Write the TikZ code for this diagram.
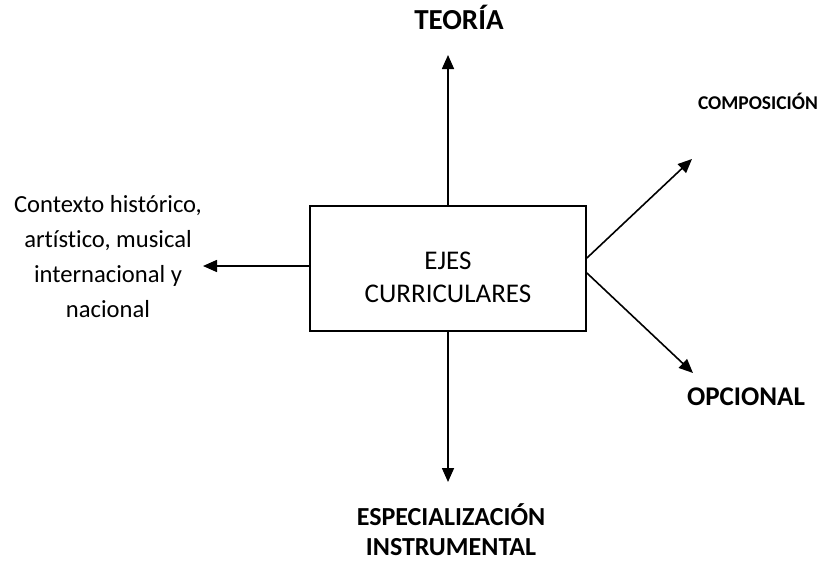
\documentclass[tikz,border=0pt]{standalone}
\usepackage{fontspec}
\setmainfont[Ligatures=NoCommon]{Carlito}
\usetikzlibrary{arrows.meta}
\begin{document}
\begin{tikzpicture}[x=1pt,y=-1pt,
  conn/.style={line width=1.6pt,-{Triangle[length=14pt,width=12pt]}},
  boxnode/.style={draw,line width=1.8pt,minimum width=276pt,minimum height=125pt,inner sep=0pt},
  lbl/.style={inner sep=0pt,align=center},
  ]
\useasboundingbox (0,0) rectangle (822,562);
\node[boxnode] (box) at (448,268.5) {};
\node[lbl,font=\fontsize{27}{33}\selectfont] (ejes) at (448,277) {EJES\\CURRICULARES};
\node[lbl,font=\bfseries\fontsize{29}{35}\selectfont,anchor=base] (teoria) at (459,29) {TEORÍA};
\node[lbl,font=\bfseries\fontsize{19.5}{24}\selectfont,anchor=base] (comp) at (758,109) {COMPOSICIÓN};
\node[lbl,font=\bfseries\fontsize{27}{33}\selectfont,anchor=base] (opc) at (746,405) {OPCIONAL};
\node[lbl,font=\bfseries\fontsize{26}{30}\selectfont,anchor=base] (esp) at (451,555) {ESPECIALIZACIÓN\\INSTRUMENTAL};
\node[lbl,font=\fontsize{24.6}{35}\selectfont,anchor=base] (ctx) at (108,317) {Contexto histórico,\\artístico, musical\\internacional y\\nacional};
\coordinate (tTop) at (448,55);
\coordinate (tBot) at (448,482);
\coordinate (tLeft) at (203,266);
\coordinate (tUR) at (692,159);
\coordinate (tLR) at (693,373);
\draw[conn] (box.north) -- (tTop);
\draw[conn] (box.south) -- (tBot);
\draw[conn] ([yshift=2.5pt]box.west) -- (tLeft);
\draw[conn] ([yshift=10.5pt]box.east) -- (tUR);
\draw[conn] ([yshift=-4.5pt]box.east) -- (tLR);
\end{tikzpicture}
\end{document}
